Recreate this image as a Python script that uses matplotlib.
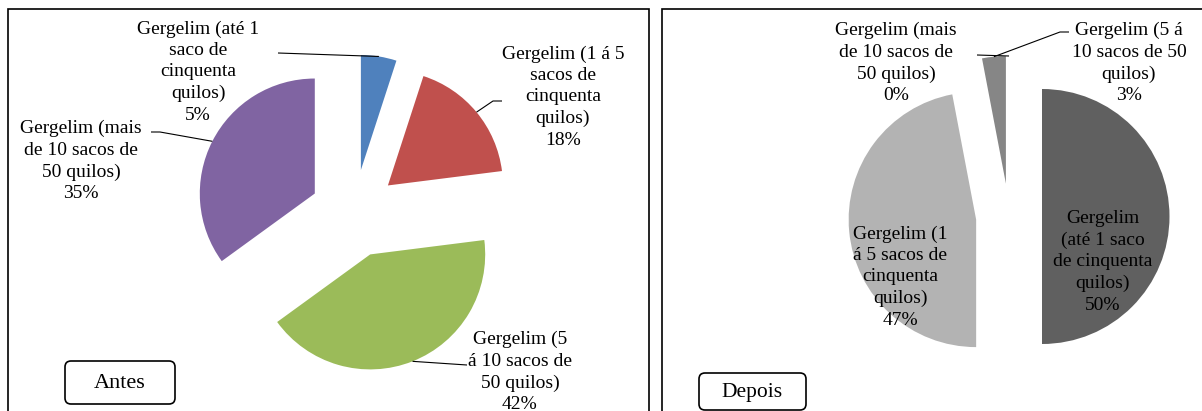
import matplotlib
matplotlib.use("Agg")
import matplotlib.pyplot as plt
from matplotlib.patches import Rectangle, FancyBboxPatch
import numpy as np

plt.rcParams['font.family'] = ['Liberation Serif', 'DejaVu Serif']

# ---------------- data ----------------
categories = [
    "Gergelim (até 1 saco de cinquenta quilos)",
    "Gergelim (1 á 5 sacos de cinquenta quilos)",
    "Gergelim (5 á 10 sacos de 50 quilos)",
    "Gergelim (mais de 10 sacos de 50 quilos)",
]
antes_values = [5, 18, 42, 35]
depois_values = [50, 47, 3, 0]
antes_labels = [
    "Gergelim (até 1\nsaco de\ncinquenta\nquilos)\n5%",
    "Gergelim (1 á 5\nsacos de\ncinquenta\nquilos)\n18%",
    "Gergelim (5\ná 10 sacos de\n50 quilos)\n42%",
    "Gergelim (mais\nde 10 sacos de\n50 quilos)\n35%",
]
depois_labels = [
    "Gergelim\n(até 1 saco\nde cinquenta\nquilos)\n50%",
    "Gergelim (1\ná 5 sacos de\ncinquenta\nquilos)\n47%",
    "Gergelim (5 á\n10 sacos de 50\nquilos)\n3%",
    "Gergelim (mais\nde 10 sacos de\n50 quilos)\n0%",
]
panel_titles = ["Antes", "Depois"]

# ---------------- style ----------------
antes_colors = ["#4F81BD", "#C0504D", "#9BBB59", "#8064A2"]
depois_colors = ["#606060", "#B3B3B3", "#868686", "#A0A0A0"]

W, H = 1202, 411
fig = plt.figure(figsize=(W / 100, H / 100), dpi=100)
ax = fig.add_axes([0, 0, 1, 1])

def Y(y):  # pixel row (top-down) -> data y (bottom-up)
    return H - y

FS = 14
LS = 1.34

def draw_pie(values, colors, center_px, radius, expl):
    wedges, _ = ax.pie(values, colors=colors, startangle=90, counterclock=False,
                       center=(center_px[0], Y(center_px[1])), radius=radius,
                       explode=[expl] * len(values), frame=True,
                       wedgeprops=dict(linewidth=0))
    return wedges

def attach(w):
    a = np.deg2rad(0.5 * (w.theta1 + w.theta2))
    return (w.center[0] + w.r * np.cos(a), w.center[1] + w.r * np.sin(a))

def leader(w, pts_px):
    x0, y0 = attach(w)
    xs = [x0] + [p[0] for p in pts_px]
    ys = [y0] + [Y(p[1]) for p in pts_px]
    ax.plot(xs, ys, color="black", lw=0.8, solid_capstyle="butt", zorder=3)

def label(txt, x, y):
    ax.text(x, Y(y), txt, ha="center", va="center", multialignment="center",
            fontsize=FS, linespacing=LS, color="black", zorder=4)

# panel frames
ax.add_patch(Rectangle((8, Y(430)), 641, 421, fill=False, lw=1.2, ec="black", zorder=5))
ax.add_patch(Rectangle((662, Y(430)), 560, 421, fill=False, lw=1.2, ec="black", zorder=5))

# ---- Antes ----
wa = draw_pie(antes_values, antes_colors, (354, 213.5), 115, 44)
leader(wa[0], [(278, 53)])
leader(wa[1], [(493, 101), (502, 101)])
leader(wa[2], [(467, 365)])
leader(wa[3], [(160, 132), (151, 132)])
label(antes_labels[0], 198, 72)
label(antes_labels[1], 563, 97)
label(antes_labels[2], 520, 372)
label(antes_labels[3], 81, 161)

# ---- Depois ----
wd = draw_pie(depois_values, depois_colors, (1009, 216.5), 127.5, 33)
leader(wd[2], [(1060, 32), (1069, 32)])
leader(wd[3], [(977, 55)])
label(depois_labels[0], 1103, 262)
label(depois_labels[1], 900, 277)
label(depois_labels[2], 1129, 63)
label(depois_labels[3], 896, 63)

# title boxes
for (x0, y0, x1, y1), t, fs in [((65, 361, 175, 404), panel_titles[0], 16),
                                ((699, 373, 806, 410), panel_titles[1], 15.5)]:
    ax.add_patch(FancyBboxPatch((x0, Y(y1)), x1 - x0, y1 - y0,
                                boxstyle="round,pad=0,rounding_size=6",
                                fill=False, ec="black", lw=1.2, zorder=5))
    ax.text((x0 + x1) / 2, Y((y0 + y1) / 2 + 1), t, ha="center", va="center",
            fontsize=fs, color="black", zorder=6)

ax.set_xlim(0, W)
ax.set_ylim(0, H)
ax.set_aspect("auto")
ax.axis("off")
fig.savefig("out.png", dpi=100, facecolor="white")
